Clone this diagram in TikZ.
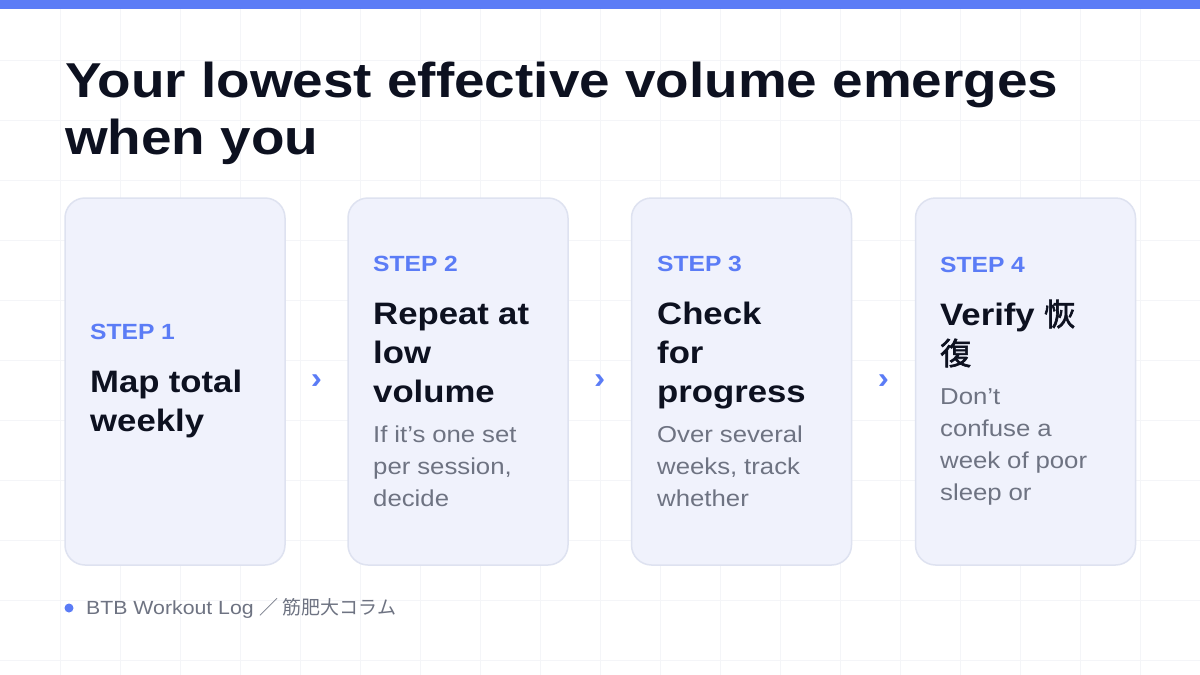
\documentclass[tikz,border=0pt]{standalone}
\usepackage{fontspec}
\setmainfont{Liberation Sans}[FakeStretch=1.12]
\newfontfamily\cjk{Noto Sans CJK JP}[AutoFakeBold=2]
\usetikzlibrary{positioning,calc}
\definecolor{accent}{RGB}{91,124,246}
\definecolor{ink}{RGB}{13,17,32}
\definecolor{muted}{RGB}{110,115,130}
\definecolor{cardbg}{RGB}{240,242,252}
\definecolor{cardline}{RGB}{222,226,240}
\definecolor{gridc}{RGB}{244,245,248}
\tikzset{
  card/.style={draw=cardline, line width=1.5pt, fill=cardbg, rounded corners=20pt,
    minimum width=220pt, minimum height=367pt, inner sep=0pt},
  cardtext/.style={anchor=west, align=left, text width=200pt, inner sep=0pt},
  chev/.style={text=accent, font=\fontsize{30}{30}\selectfont\bfseries}
}
\newcommand{\steplab}[1]{{\fontsize{22}{26}\selectfont\bfseries\spaceskip=.3em\color{accent}#1}\par\vspace{14pt}}
\newcommand{\stephead}[1]{{\fontsize{31}{39}\selectfont\bfseries\spaceskip=.3em\color{ink}#1\par}}
\newcommand{\stepbody}[1]{\vspace{8pt}{\fontsize{23}{32}\selectfont\spaceskip=.3em\color{muted}#1\par}}
\begin{document}
\begin{tikzpicture}[x=1pt,y=-1pt]
  \useasboundingbox (0,0) rectangle (1200,675);
  \fill[white] (0,0) rectangle (1200,675);
  % grid
  \foreach \gx in {60,120,...,1140} \draw[gridc, line width=0.8pt] (\gx,8) -- (\gx,675);
  \foreach \gy in {60,120,...,660} \draw[gridc, line width=0.8pt] (0,\gy) -- (1200,\gy);
  \fill[accent] (0,0) rectangle (1200,9);
  % title
  \node (title) [anchor=north west, align=left, inner sep=0pt, text=ink,
    font=\fontsize{49}{57}\selectfont\bfseries] at (65,62)
    {Your lowest effective volume emerges\\when you};
  % cards
  \node (card1) [card] at (175,381.5) {};
  \node (card2) [card] at (458,381.5) {};
  \node (card3) [card] at (741.5,381.5) {};
  \node (card4) [card] at (1025.5,381.5) {};
  \node (t1) [cardtext] at (90,381.5) {\steplab{STEP 1}\stephead{Map total\\weekly}};
  \node (t2) [cardtext] at (373,381.5) {\steplab{STEP 2}\stephead{Repeat at\\low\\volume}\stepbody{If it's one set\\per session,\\decide}};
  \node (t3) [cardtext] at (657,381.5) {\steplab{STEP 3}\stephead{Check\\for\\progress}\stepbody{Over several\\weeks, track\\whether}};
  \node (t4) [cardtext] at (940,381.5) {\steplab{STEP 4}\stephead{Verify {\cjk 恢}\\{\cjk 復}}\stepbody{Don't\\confuse a\\week of poor\\sleep or}};
  % chevrons
  \node (c1) [chev] at ($(card1.east)!0.5!(card2.west)$) {›};
  \node (c2) [chev] at ($(card2.east)!0.5!(card3.west)$) {›};
  \node (c3) [chev] at ($(card3.east)!0.5!(card4.west)$) {›};
  % footer
  \fill[accent] (69,608) circle (4.5pt);
  \node (foot) [anchor=west, inner sep=0pt, text=muted, font=\fontsize{19}{19}\selectfont]
    at (86,608) {BTB Workout Log {\cjk ／ 筋肥大コラム}};
\end{tikzpicture}
\end{document}
